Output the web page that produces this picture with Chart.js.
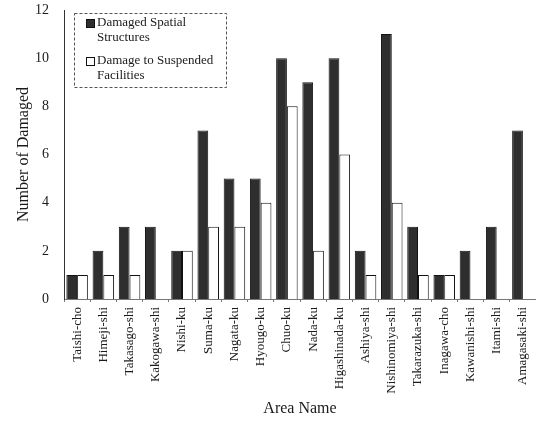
<!DOCTYPE html>
<html>
<head>
<meta charset="utf-8">
<script src="https://cdn.jsdelivr.net/npm/chart.js@4/dist/chart.umd.min.js"></script>
<style>
  html, body { margin: 0; padding: 0; background: #ffffff; }
  #wrap { position: relative; width: 536px; height: 422px; }
</style>
</head>
<body>
<div id="wrap"><canvas id="c" width="536" height="422"></canvas></div>
<script>
const categories = ["Taishi-cho", "Himeji-shi", "Takasago-shi", "Kakogawa-shi", "Nishi-ku", "Suma-ku", "Nagata-ku", "Hyougo-ku", "Chuo-ku", "Nada-ku", "Higashinada-ku", "Ashiya-shi", "Nishinomiya-shi", "Takarazuka-shi", "Inagawa-cho", "Kawanishi-shi", "Itami-shi", "Amagasaki-shi"];
const damagedSpatial = [1, 2, 3, 3, 2, 7, 5, 5, 10, 9, 10, 2, 11, 3, 1, 2, 3, 7];
const damagedSuspended = [1, 1, 1, 0, 2, 3, 3, 4, 8, 2, 6, 1, 4, 1, 1, 0, 0, 0];
const yTicks = [0, 2, 4, 6, 8, 10, 12];
const seriesNames = [["Damaged Spatial", "Structures"], ["Damage to Suspended", "Facilities"]];

const FONT = "'Liberation Serif', 'DejaVu Serif', serif";
const DARK = '#2e2e2e';

const legendPlugin = {
  id: 'boxLegend',
  afterDraw(chart) {
    const ctx = chart.ctx;
    const ca = chart.chartArea;
    const x0 = ca.left + 10, y0 = ca.top + 3, w = 152, h = 74;
    ctx.save();
    ctx.fillStyle = '#ffffff';
    ctx.fillRect(x0, y0, w, h);
    ctx.setLineDash([3, 2]);
    ctx.strokeStyle = '#555555';
    ctx.lineWidth = 1;
    ctx.strokeRect(x0 + 0.5, y0 + 0.5, w, h);
    ctx.setLineDash([]);
    ctx.font = "13px " + FONT;
    ctx.textBaseline = 'middle';
    ctx.fillStyle = '#1a1a1a';
    const items = [
      { fill: DARK, lines: seriesNames[0], y: y0 + 10 },
      { fill: '#ffffff', lines: seriesNames[1], y: y0 + 48 }
    ];
    items.forEach(it => {
      ctx.fillStyle = it.fill;
      ctx.fillRect(x0 + 12, it.y - 4, 8, 8);
      ctx.strokeStyle = '#111111';
      ctx.strokeRect(x0 + 12.5, it.y - 3.5, 8, 8);
      ctx.fillStyle = '#1a1a1a';
      it.lines.forEach((t, i) => ctx.fillText(t, x0 + 23, it.y + i * 15));
    });
    ctx.restore();
  }
};

new Chart(document.getElementById('c'), {
  type: 'bar',
  data: {
    labels: categories,
    datasets: [
      { label: seriesNames[0].join(' '), data: damagedSpatial, backgroundColor: DARK, borderColor: '#111111', borderWidth: 1 },
      { label: seriesNames[1].join(' '), data: damagedSuspended, backgroundColor: '#ffffff', borderColor: '#111111', borderWidth: 1 }
    ]
  },
  options: {
    responsive: false,
    animation: false,
    devicePixelRatio: 1,
    layout: { padding: { top: 10, right: -5, left: 0, bottom: 0 } },
    datasets: { bar: { categoryPercentage: 0.82, barPercentage: 1.0 } },
    plugins: { legend: { display: false }, tooltip: { enabled: false } },
    scales: {
      x: {
        afterFit: s => { s.height = 123; s.paddingLeft = 0; s.paddingRight = 0; },
        border: { display: true, color: '#777777', width: 1 },
        grid: { display: true, drawOnChartArea: false, drawTicks: true, tickLength: 3, color: '#777777' },
        ticks: { autoSkip: false, maxRotation: 90, minRotation: 90, padding: 5, color: '#1a1a1a', font: { family: FONT, size: 13 } },
        title: { display: true, text: 'Area Name', color: '#1a1a1a', font: { family: FONT, size: 16 }, padding: { top: 0, bottom: 4 } }
      },
      y: {
        min: 0, max: 12,
        afterFit: s => { s.width = 64; s.paddingTop = 0; s.paddingBottom = 0; },
        afterBuildTicks: s => { s.ticks = yTicks.map(v => ({ value: v })); },
        border: { display: true, color: '#333333', width: 1 },
        grid: { display: false },
        ticks: { padding: 7, color: '#1a1a1a', font: { family: FONT, size: 14 } },
        title: { display: true, text: 'Number of Damaged', color: '#1a1a1a', font: { family: FONT, size: 16 }, padding: { top: 14, bottom: 0 } }
      }
    }
  },
  plugins: [legendPlugin]
});
</script>
</body>
</html>
